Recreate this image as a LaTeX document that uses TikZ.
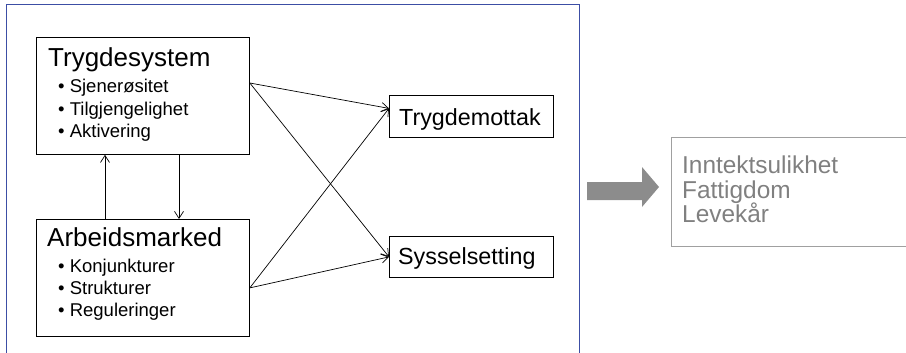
\documentclass[tikz,border=0pt]{standalone}
\usepackage{fontspec}
\setmainfont{Liberation Sans}
\usetikzlibrary{arrows.meta}
\definecolor{frameblue}{RGB}{60,78,165}
\definecolor{softgray}{RGB}{128,128,128}
\definecolor{boxgray}{RGB}{160,160,160}
\definecolor{arrowgray}{RGB}{140,140,140}
\begin{document}
\begin{tikzpicture}[x=1pt,y=-1pt,
  box/.style={draw=black,line width=0.8pt,inner sep=0pt,anchor=north west},
  title/.style={anchor=base west,inner sep=0pt,font=\fontsize{26}{30}\selectfont},
  label/.style={anchor=base west,inner sep=0pt,font=\fontsize{23.3}{28}\selectfont},
  outtext/.style={anchor=base west,inner sep=0pt,text=softgray,font=\fontsize{24.4}{29}\selectfont},
  item/.style={anchor=base west,inner sep=0pt,font=\fontsize{18.5}{22}\selectfont},
  conn/.style={line width=0.7pt,-{Straight Barb[length=7pt,width=9pt,line width=0.7pt]}}]
\useasboundingbox (0,0) rectangle (906,353);
% blue frame
\draw[frameblue,line width=1pt] (6,360) -- (6,5) -- (579,5) -- (579,360);
% boxes
\node[box,minimum width=213pt,minimum height=117pt] (ts) at (36,37) {};
\node[box,minimum width=213pt,minimum height=117pt] (ab) at (36,219) {};
\node[box,minimum width=164pt,minimum height=42pt] (tm) at (389,95) {};
\node[box,minimum width=164pt,minimum height=41pt] (sy) at (389,236) {};
\node[box,draw=boxgray,minimum width=260pt,minimum height=109pt] (out) at (671,137) {};
% texts
\node[title] (tst) at (48,67) {Trygdesystem};
\node[item] (ts1) at (58,93) {• Sjenerøsitet};
\node[item] (ts2) at (58,115.5) {• Tilgjengelighet};
\node[item] (ts3) at (58,137) {• Aktivering};
\node[title] (abt) at (47,246) {Arbeidsmarked};
\node[item] (ab1) at (58,272) {• Konjunkturer};
\node[item] (ab2) at (58,294) {• Strukturer};
\node[item] (ab3) at (58,316.5) {• Reguleringer};
\node[label] (tmt) at (399,125) {Trygdemottak};
\node[label] (syt) at (398,264) {Sysselsetting};
\node[outtext] (o1) at (682,173) {Inntektsulikhet};
\node[outtext] (o2) at (682,198) {Fattigdom};
\node[outtext] (o3) at (682,222.5) {Levekår};
% connectors
\draw[conn] ([xshift=69pt]ab.north west) -- ([xshift=69pt]ts.south west);
\draw[conn] ([xshift=143pt]ts.south west) -- ([xshift=143pt]ab.north west);
\draw[conn] ([yshift=-46pt]ts.north east) -- ([yshift=8pt]tm.west);
\draw[conn] ([yshift=-46pt]ts.north east) -- (sy.west);
\draw[conn] ([yshift=-10pt]ab.east) -- ([yshift=8pt]tm.west);
\draw[conn] ([yshift=-10pt]ab.east) -- (sy.west);
% big gray arrow
\fill[arrowgray] (587,182) -- (642,182) -- (642,167) -- (659,187) -- (642,207) -- (642,200) -- (587,200) -- cycle;
\end{tikzpicture}
\end{document}
